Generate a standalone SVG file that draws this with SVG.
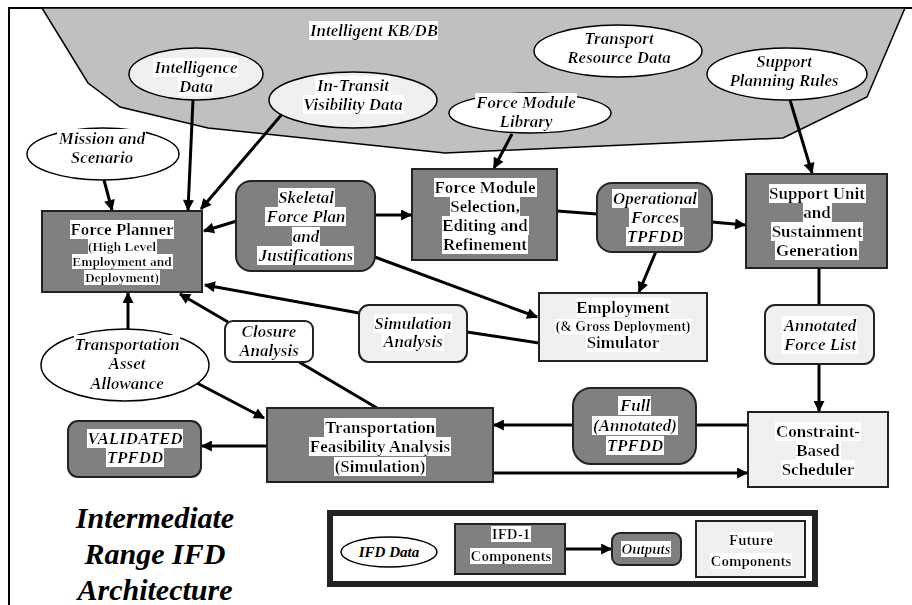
<svg xmlns="http://www.w3.org/2000/svg" width="912" height="605" viewBox="0 0 912 605">
<defs>
<filter id="bg" x="0" y="0" width="1" height="1"><feFlood flood-color="#ffffff"/><feComposite in="SourceGraphic" operator="over"/></filter>
<marker id="ah" viewBox="0 0 10 10" refX="9" refY="5" markerWidth="14" markerHeight="11" markerUnits="userSpaceOnUse" orient="auto"><path d="M0,0 L10,5 L0,10 z" fill="#000"/></marker>
</defs>
<style>
.dk{fill:#808080;stroke:#222;stroke-width:2}
.lt{fill:#efefef;stroke:#222;stroke-width:2}
.wt{fill:#fff;stroke:#222;stroke-width:2}
.el{fill:#fff;stroke:#000;stroke-width:1.5}
.elg{fill:#efefef;stroke:#000;stroke-width:1.5}
text{font-family:"Liberation Serif","Times New Roman",serif;font-weight:bold;text-anchor:middle;fill:#000;font-size:17px}
.h{filter:url(#bg)}
.i{font-style:italic}
.s13{font-size:13.5px}
.s14{font-size:14px}
.s15{font-size:15px}
.c{stroke:#000;stroke-width:3;fill:none}
.a{marker-end:url(#ah)}
</style>
<rect width="912" height="605" fill="#fff"/>
<path d="M9,605 V8 H912" fill="none" stroke="#000" stroke-width="2"/>

<g id="kbdb">
<polygon points="42,8 88,83 120,107 208,128 445,153 783,138 867,97 905,8" fill="#c0c0c0" stroke="#000" stroke-width="1.5"/>
<text class="h i" x="374" y="36">Intelligent KB/DB</text>
</g>

<g id="legend-frame">
<rect x="330" y="513" width="485" height="71" fill="#fff" stroke="#222" stroke-width="6"/>
</g>

<g id="connectors">
<line class="c a" x1="104" y1="180" x2="112" y2="210"/>
<line class="c a" x1="193" y1="100" x2="188" y2="210"/>
<line class="c a" x1="283" y1="113" x2="201" y2="209"/>
<line class="c a" x1="240" y1="220" x2="204" y2="231"/>
<line class="c a" x1="375" y1="215" x2="411" y2="215"/>
<line class="c a" x1="372" y1="256" x2="537" y2="317"/>
<line class="c a" x1="512" y1="134" x2="494" y2="168"/>
<line class="c" x1="557" y1="211" x2="597" y2="214"/>
<line class="c a" x1="712" y1="222" x2="745" y2="225"/>
<line class="c a" x1="657" y1="249" x2="639" y2="292"/>
<line class="c a" x1="790" y1="100" x2="812" y2="173"/>
<line class="c" x1="819" y1="268" x2="819" y2="305"/>
<line class="c a" x1="819" y1="364" x2="819" y2="411"/>
<line class="c" x1="696" y1="425" x2="748" y2="425"/>
<line class="c a" x1="573" y1="425" x2="494" y2="425"/>
<line class="c a" x1="493" y1="473" x2="747" y2="473"/>
<line class="c a" x1="267" y1="446" x2="202" y2="446"/>
<line class="c a" x1="197" y1="383" x2="264" y2="418"/>
<line class="c" x1="299" y1="362" x2="377" y2="408"/>
<line class="c a" x1="228" y1="322" x2="180" y2="294"/>
<line class="c a" x1="128" y1="329" x2="128" y2="293"/>
<line class="c a" x1="359" y1="313" x2="205" y2="285"/>
<line class="c" x1="467" y1="332" x2="539" y2="343"/>
<line class="c a" x1="565" y1="549" x2="611" y2="549"/>
</g>

<g id="intel">
<ellipse class="elg" cx="196" cy="74" rx="67" ry="26"/>
<text class="h i" x="196" y="73">Intelligence</text>
<text class="h i" x="196" y="92">Data</text>
</g>
<g id="intransit">
<ellipse class="elg" cx="353" cy="100" rx="84" ry="28"/>
<text class="h i" x="353" y="91">In-Transit</text>
<text class="h i" x="353" y="110">Visibility Data</text>
</g>
<g id="mission">
<ellipse class="el" cx="103" cy="154" rx="76" ry="26"/>
<text class="h i" x="102" y="144">Mission and</text>
<text class="h i" x="102" y="163">Scenario</text>
</g>
<g id="transport-res">
<ellipse class="el" cx="618" cy="51" rx="84" ry="26"/>
<text class="h i" x="619" y="44">Transport</text>
<text class="h i" x="619" y="63">Resource Data</text>
</g>
<g id="support-rules">
<ellipse class="el" cx="787" cy="74" rx="80" ry="26"/>
<text class="h i" x="784" y="67">Support</text>
<text class="h i" x="784" y="86">Planning Rules</text>
</g>
<g id="fm-lib">
<ellipse class="el" cx="530" cy="113" rx="81" ry="20"/>
<text class="h i" x="526" y="108">Force Module</text>
<text class="h i" x="526" y="127">Library</text>
</g>

<g id="force-planner">
<rect class="dk" x="42" y="211" width="160" height="81"/>
<text class="h" x="122" y="235">Force Planner</text>
<text class="h s13" x="122" y="251">(High Level</text>
<text class="h s13" x="122" y="266">Employment and</text>
<text class="h s13" x="122" y="282">Deployment)</text>
</g>
<g id="skeletal">
<rect class="dk" x="236" y="181" width="139" height="90" rx="15"/>
<text class="h i" x="306" y="203">Skeletal</text>
<text class="h i" x="306" y="222">Force Plan</text>
<text class="h i" x="306" y="242">and</text>
<text class="h i" x="306" y="261">Justifications</text>
</g>
<g id="fm-sel">
<rect class="dk" x="412" y="169" width="145" height="91"/>
<text class="h" x="485" y="193">Force Module</text>
<text class="h" x="485" y="212">Selection,</text>
<text class="h" x="485" y="231">Editing and</text>
<text class="h" x="485" y="250">Refinement</text>
</g>
<g id="op-forces">
<rect class="dk" x="597" y="183" width="115" height="69" rx="15"/>
<text class="h i" x="655" y="204">Operational</text>
<text class="h i" x="655" y="223">Forces</text>
<text class="h i" x="655" y="242">TPFDD</text>
</g>
<g id="support-unit">
<rect class="dk" x="746" y="174" width="141" height="94"/>
<text class="h" x="817" y="199">Support Unit</text>
<text class="h" x="817" y="218">and</text>
<text class="h" x="817" y="237">Sustainment</text>
<text class="h" x="817" y="256">Generation</text>
</g>
<g id="employment">
<rect class="lt" x="539" y="293" width="168" height="68"/>
<text class="h" x="623" y="313">Employment</text>
<text class="h s14" x="623" y="331">(&amp; Gross Deployment)</text>
<text class="h" x="623" y="348">Simulator</text>
</g>
<g id="sim-analysis">
<rect class="lt" x="359" y="305" width="108" height="57" rx="10"/>
<text class="h i" x="413" y="329">Simulation</text>
<text class="h i" x="413" y="347">Analysis</text>
</g>
<g id="closure">
<rect class="wt" x="225" y="321" width="88" height="41" rx="8"/>
<text class="h i" x="269" y="337">Closure</text>
<text class="h i" x="269" y="356">Analysis</text>
</g>
<g id="annotated">
<rect class="lt" x="765" y="305" width="109" height="59" rx="10"/>
<text class="h i" x="820" y="331">Annotated</text>
<text class="h i" x="820" y="350">Force List</text>
</g>
<g id="taa">
<ellipse class="el" cx="125" cy="365" rx="84" ry="36"/>
<text class="h i" x="127" y="350">Transportation</text>
<text class="h i" x="127" y="369">Asset</text>
<text class="h i" x="127" y="389">Allowance</text>
</g>
<g id="constraint">
<rect class="lt" x="748" y="412" width="140" height="75"/>
<text class="h" x="818" y="437">Constraint-</text>
<text class="h" x="818" y="456">Based</text>
<text class="h" x="818" y="475">Scheduler</text>
</g>
<g id="full">
<rect class="dk" x="573" y="388" width="123" height="76" rx="18"/>
<text class="h i" x="635" y="411">Full</text>
<text class="h i" x="635" y="431">(Annotated)</text>
<text class="h i" x="635" y="451">TPFDD</text>
</g>
<g id="tfa">
<rect class="dk" x="267" y="408" width="226" height="74"/>
<text class="h" x="380" y="433">Transportation</text>
<text class="h" x="380" y="452">Feasibility Analysis</text>
<text class="h" x="380" y="472">(Simulation)</text>
</g>
<g id="validated">
<rect class="dk" x="68" y="421" width="133" height="56" rx="10"/>
<text class="h i" x="135" y="444">VALIDATED</text>
<text class="h i" x="135" y="463">TPFDD</text>
</g>

<g id="title">
<text class="i" x="155" y="528" style="font-size:30px">Intermediate</text>
<text class="i" x="155" y="564" style="font-size:30px">Range IFD</text>
<text class="i" x="155" y="600" style="font-size:30px">Architecture</text>
</g>

<g id="lg-data">
<ellipse class="el" cx="389" cy="552" rx="48" ry="15"/>
<text class="i s15" x="389" y="557">IFD Data</text>
</g>
<g id="lg-ifd1">
<rect class="dk" x="455" y="524" width="110" height="50"/>
<text class="h s15" x="511" y="539">IFD-1</text>
<text class="h s15" x="511" y="561">Components</text>
</g>
<g id="lg-outputs">
<rect class="dk" x="612" y="533" width="69" height="32" rx="8"/>
<text class="h i s15" x="646" y="554">Outputs</text>
</g>
<g id="lg-future">
<rect class="lt" x="696" y="521" width="109" height="56"/>
<text class="h s15" x="751" y="545">Future</text>
<text class="h s15" x="751" y="566">Components</text>
</g>
</svg>
